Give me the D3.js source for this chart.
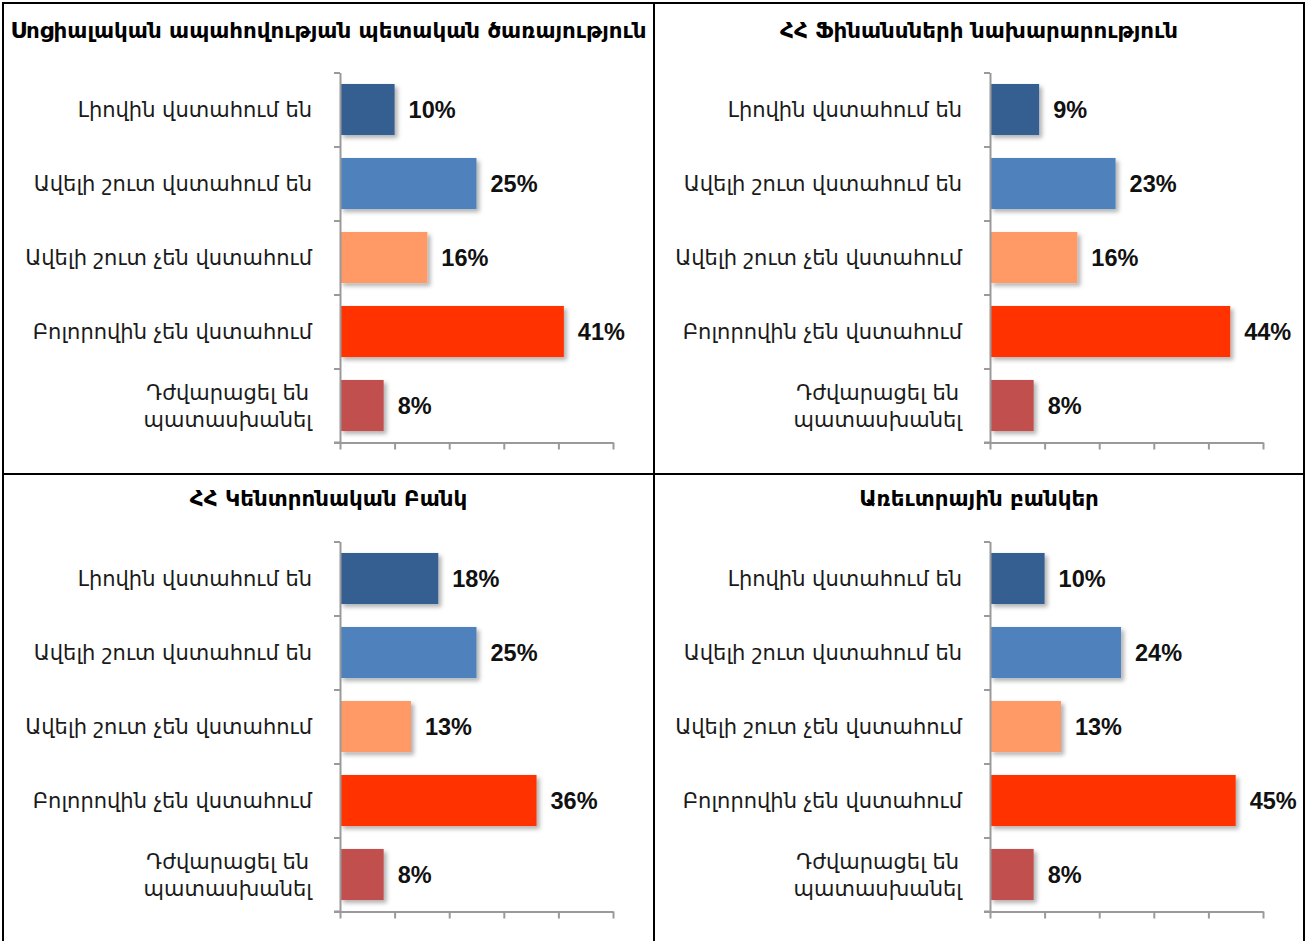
<!DOCTYPE html>
<html>
<head>
<meta charset="utf-8">
<script src="https://cdn.jsdelivr.net/npm/d3@7"></script>
<style>
  html, body { margin: 0; padding: 0; background: #fff; }
  svg { display: block; }
</style>
</head>
<body>
<svg id="chart" width="1309" height="941"></svg>
<script>
// ---- data ----
const categories = [
  "Լիովին վստահում են",
  "Ավելի շուտ վստահում են",
  "Ավելի շուտ չեն վստահում",
  "Բոլորովին չեն վստահում",
  "Դժվարացել են\nպատասխանել"
];
const panelTitles = [
  "Սոցիալական ապահովության պետական ծառայություն",
  "ՀՀ Ֆինանսների նախարարություն",
  "ՀՀ Կենտրոնական Բանկ",
  "Առեւտրային բանկեր"
];
const valuesSocial   = [10, 25, 16, 41, 8];
const valuesFinance  = [9, 23, 16, 44, 8];
const valuesCentral  = [18, 25, 13, 36, 8];
const valuesBanks    = [10, 24, 13, 45, 8];
const xTicks = [0, 10, 20, 30, 40, 50];
const barColors = ["#365F91", "#4F81BD", "#FF9966", "#FF3300", "#C0504D"];

const panelValues = [valuesSocial, valuesFinance, valuesCentral, valuesBanks];

// ---- layout ----
const svg = d3.select("#chart");
const defs = svg.append("defs");
const f = defs.append("filter").attr("id", "shadow")
  .attr("x", "-10%").attr("y", "-20%").attr("width", "130%").attr("height", "150%");
f.append("feDropShadow").attr("dx", 3).attr("dy", 3).attr("stdDeviation", 2)
  .attr("flood-color", "#000").attr("flood-opacity", 0.3);

const cells = [
  {x0: 3, x1: 654, y0: 3, y1: 474, ox: 0, oy: 0},
  {x0: 654, x1: 1304, y0: 3, y1: 474, ox: 650, oy: 0},
  {x0: 3, x1: 654, y0: 474, y1: 941, ox: 0, oy: 469},
  {x0: 654, x1: 1304, y0: 474, y1: 941, ox: 650, oy: 469}
];

const ARM = "'DejaVu Sans', 'Noto Sans', sans-serif";

cells.forEach((c, i) => {
  const vals = panelValues[i];
  const g = svg.append("g").attr("transform", `translate(${c.ox},${c.oy})`);

  // title
  svg.append("text")
    .attr("x", (c.x0 + c.x1) / 2)
    .attr("y", i >= 2 ? 506 : 38)
    .attr("text-anchor", "middle")
    .attr("font-family", ARM)
    .attr("font-weight", "bold")
    .attr("font-size", 21.4)
    .attr("fill", "#000")
    .text(panelTitles[i]);

  const x = d3.scaleLinear().domain([0, 50]).range([340, 613]);
  const y = d3.scaleBand().domain(categories).range([72.5, 442.5])
    .paddingInner(0.31).paddingOuter(0.155);
  const yIdx = d3.scaleLinear().domain([0, categories.length]).range([72.5, 442.5]);

  // bars
  g.selectAll("rect.bar").data(vals).enter().append("rect")
    .attr("class", "bar")
    .attr("x", x(0))
    .attr("y", (d, j) => y(categories[j]))
    .attr("width", d => x(d) - x(0))
    .attr("height", y.bandwidth())
    .attr("fill", (d, j) => barColors[j])
    .attr("filter", "url(#shadow)");

  // value labels
  g.selectAll("text.val").data(vals).enter().append("text")
    .attr("class", "val")
    .attr("x", d => x(d) + 14)
    .attr("y", (d, j) => y(categories[j]) + y.bandwidth() / 2)
    .attr("dy", "0.36em")
    .attr("font-family", "'Liberation Sans', Arial, sans-serif")
    .attr("font-weight", "bold")
    .attr("font-size", 23.5)
    .attr("fill", "#111")
    .text(d => d + "%");

  // axes
  const xAxis = d3.axisBottom(x).tickValues(xTicks).tickFormat("").tickSizeInner(7).tickSizeOuter(0);
  const gx = g.append("g").attr("transform", `translate(0,442.5)`).call(xAxis);
  const yAxis = d3.axisLeft(yIdx).tickValues(d3.range(0, categories.length + 1)).tickFormat("").tickSizeInner(6).tickSizeOuter(0);
  const gy = g.append("g").attr("transform", `translate(340,0)`).call(yAxis);
  [gx, gy].forEach(a => {
    a.selectAll("path.domain").attr("stroke", "#9a9a9a").attr("stroke-width", 2);
    a.selectAll(".tick line").attr("stroke", "#9a9a9a").attr("stroke-width", 2);
  });
  g.append("line").attr("x1", 334).attr("x2", 340).attr("y1", 442.5).attr("y2", 442.5)
    .attr("stroke", "#9a9a9a").attr("stroke-width", 2);

  // category labels
  categories.forEach((cat, j) => {
    const lines = cat.split("\n");
    const cy = y(cat) + y.bandwidth() / 2;
    const t = g.append("text")
      .attr("font-family", ARM)
      .attr("font-size", 21)
      .attr("fill", "#1a1a1a");
    if (lines.length === 1) {
      t.attr("x", 312).attr("y", cy).attr("dy", "0.36em").attr("text-anchor", "end").text(cat);
    } else {
      const lh = 27;
      lines.forEach((ln, k) => {
        t.append("tspan").attr("x", 0).attr("y", cy + (k - (lines.length - 1) / 2) * lh)
          .attr("dy", "0.36em").text(ln);
      });
      let w = 0;
      t.selectAll("tspan").each(function () { w = Math.max(w, this.getComputedTextLength()); });
      t.attr("text-anchor", "middle");
      t.selectAll("tspan").attr("x", 312 - w / 2);
    }
  });
});

// table borders
const lineAttr = sel => sel.attr("stroke", "#000").attr("stroke-width", 2);
lineAttr(svg.append("line").attr("x1", 3).attr("x2", 3).attr("y1", 3).attr("y2", 941));
lineAttr(svg.append("line").attr("x1", 654).attr("x2", 654).attr("y1", 3).attr("y2", 941));
lineAttr(svg.append("line").attr("x1", 1304).attr("x2", 1304).attr("y1", 3).attr("y2", 941));
lineAttr(svg.append("line").attr("x1", 2).attr("x2", 1305).attr("y1", 3).attr("y2", 3));
lineAttr(svg.append("line").attr("x1", 2).attr("x2", 1305).attr("y1", 474).attr("y2", 474));
</script>
</body>
</html>
